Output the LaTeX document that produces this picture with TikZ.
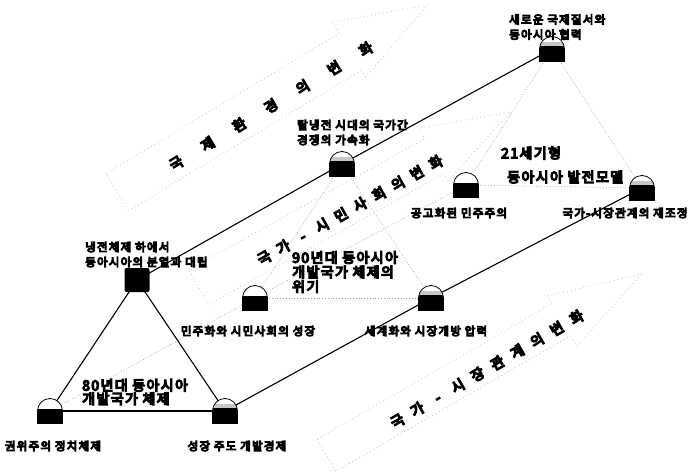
\documentclass[tikz,border=0pt]{standalone}
\usepackage{fontspec}
\setmainfont{Noto Sans CJK KR}
\newfontfamily\lblfont{Noto Sans CJK KR}[LetterSpace=11,FakeBold=9]
\newfontfamily\bigfont{Noto Sans CJK KR}[LetterSpace=10,FakeBold=9]
\newfontfamily\arrfont{Noto Sans CJK KR}[FakeBold=10]
\begin{document}
\begin{tikzpicture}[x=1pt,y=-1pt,
  solidline/.style={line width=1.1pt,black},
  dotline/.style={line width=0.6pt,gray!75,dash pattern=on 0.8pt off 2pt},
  arrowline/.style={line width=0.6pt,gray!50,dash pattern=on 1pt off 3pt},
  lbl/.style={font=\fontsize{11.5}{15}\lblfont,inner sep=0pt,align=left},
  biglbl/.style={font=\fontsize{14}{14.5}\bigfont,inner sep=0pt,align=left},
  arrtxt/.style={font=\fontsize{14}{14}\arrfont,inner sep=0pt},
  dome/.pic={
    \fill[white] (-12.5,12.5) -- (-12.5,0) arc[start angle=180,end angle=360,radius=12.5] -- (12.5,12.5) -- cycle;
    \begin{scope}
      \clip (-12.5,12.5) -- (-12.5,0) arc[start angle=180,end angle=360,radius=12.5] -- (12.5,12.5) -- cycle;
      \fill[black] (-13,-2) rectangle (13,13);
    \end{scope}
    \draw[line width=0.8pt] (-12.5,12.5) -- (-12.5,0) arc[start angle=180,end angle=360,radius=12.5] -- (12.5,12.5) -- cycle;
  },
  darkdome/.pic={
    \fill[white] (-12.5,12.5) -- (-12.5,0) arc[start angle=180,end angle=360,radius=12.5] -- (12.5,12.5) -- cycle;
    \begin{scope}
      \clip (-12.5,12.5) -- (-12.5,0) arc[start angle=180,end angle=360,radius=12.5] -- (12.5,12.5) -- cycle;
      \fill[gray!45] (-13,-7) rectangle (13,-2);
      \fill[black] (-13,-3) rectangle (13,13);
    \end{scope}
    \draw[line width=0.8pt] (-12.5,12.5) -- (-12.5,0) arc[start angle=180,end angle=360,radius=12.5] -- (12.5,12.5) -- cycle;
  }
]
\useasboundingbox (0,0) rectangle (689,472);

% node positions
\coordinate (A) at (137,280);
\coordinate (B) at (50,411);
\coordinate (C) at (225,411);
\coordinate (D) at (255,298);
\coordinate (E) at (431,298);
\coordinate (F) at (342,164);
\coordinate (G) at (552,49);
\coordinate (H) at (466,185);
\coordinate (I) at (642,188);

% big dotted arrows
\begin{scope}[shift={(271,106)},rotate=31]
  \draw[arrowline] (-176,-27) -- (96,-27) -- (96,-40) -- (186,-6) -- (96,24) -- (96,16) -- (-176,16) -- cycle;
  \node[arrtxt,rotate=31] (T1) at (0,0) {\spaceskip=24pt 국 제 환 경 의 변 화};
\end{scope}
\begin{scope}[shift={(350,210)},rotate=29]
  \draw[arrowline] (-170,-26) -- (100,-26) -- (100,-38) -- (188,-8) -- (100,22) -- (100,14) -- (-170,14) -- cycle;
  \node[arrtxt,rotate=29] (T2) at (0,0) {\spaceskip=8.8pt 국 가 \makebox[14pt]{-} 시 민 사 회 의 변 화};
\end{scope}
\begin{scope}[shift={(487,369)},rotate=30]
  \draw[arrowline] (-182,-24) -- (89,-24) -- (89,-33) -- (181,-5) -- (89,25) -- (89,13) -- (-182,13) -- cycle;
  \node[arrtxt,rotate=30] (T3) at (0,0) {\spaceskip=10pt 국 가 \makebox[14pt]{-} 시 장 관 계 의 변 화};
\end{scope}

% dotted connectors
\draw[dotline] (B) -- (D);
\draw[dotline] (D) -- (H);
\draw[dotline] (F) -- (D);
\draw[dotline] (F) -- (E);
\draw[dotline] (D) -- (E);
\draw[dotline] (G) -- (H);
\draw[dotline] (G) -- (I);
\draw[dotline] (H) -- (I);

% solid connectors
\draw[solidline] (B) -- (A);
\draw[solidline] (A) -- (C);
\draw[solidline] (B) -- (C);
\draw[solidline] (A) -- (F);
\draw[solidline] (F) -- (G);
\draw[solidline] (C) -- (E);
\draw[solidline] (E) -- (I);

% markers
\fill[black,rounded corners=2pt] (124.5,268) rectangle (149.5,292);
\pic at (B) {dome};
\pic at (C) {darkdome};
\pic at (D) {dome};
\pic at (E) {darkdome};
\pic at (F) {darkdome};
\pic at (G) {darkdome};
\pic at (H) {dome};
\pic at (I) {darkdome};

% labels
\node[lbl,anchor=west] (Alab) at (85,254.5) {냉전체제 하에서\\동아시아의 분열과 대립};
\node[lbl] (Blab) at (53,446) {권위주의 정치체제};
\node[lbl] (Clab) at (237,446) {성장 주도 개발경제};
\node[biglbl,anchor=west,font=\fontsize{14}{13.5}\bigfont] (L80) at (82,392) {80년대 동아시아\\개발국가 체제};
\node[lbl] (Dlab) at (248,331) {민주화와 시민사회의 성장};
\node[biglbl,anchor=west] (L90) at (292,272) {90년대 동아시아\\개발국가 체제의\\위기};
\node[lbl] (Elab) at (426,331) {세계화와 시장개방 압력};
\node[lbl,anchor=west] (Flab) at (297,132.5) {탈냉전 시대의 국가간\\경쟁의 가속화};
\node[lbl,anchor=west] (Glab) at (509,27) {새로운 국제질서와\\동아시아 협력};
\node[lbl] (Hlab) at (459,213) {공고화된 민주주의};
\node[lbl] (Ilab) at (625,213) {국가-시장관계의 재조정};
\node[biglbl,anchor=west] (L21a) at (501,153) {21세기형};
\node[biglbl,anchor=west] (L21b) at (507,177) {동아시아 발전모델};
\end{tikzpicture}
\end{document}
